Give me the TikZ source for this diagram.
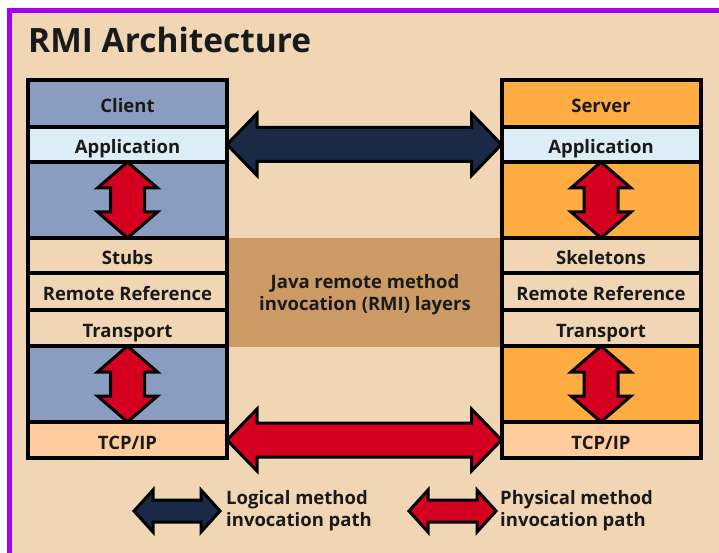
\documentclass[tikz,border=0pt]{standalone}
\usepackage{fontspec}
\setmainfont{Open Sans}
\usetikzlibrary{positioning,calc}

\definecolor{pagebg}{HTML}{F0D6B4}
\definecolor{frameviolet}{HTML}{A300F2}
\definecolor{clientblue}{HTML}{8A9CBF}
\definecolor{applight}{HTML}{DCEDF7}
\definecolor{tcppeach}{HTML}{FFCC9E}
\definecolor{serverorange}{HTML}{FFAC42}
\definecolor{bandbrown}{HTML}{CC9A64}
\definecolor{navy}{HTML}{1A2946}
\definecolor{callred}{HTML}{D5001F}
\definecolor{inkc}{HTML}{1A1A1A}

% horizontal double arrow: left tip, right tip, colour, head length, head half width, shaft half width
\newcommand{\hbiarrow}[6]{%
  \draw[fatarrow, fill=#3] (#1) -- ++(#4,-#5) -- ++(0,#5-#6) -- ($(#2)+(-#4,-#6)$) -- ++(0,#6-#5) -- (#2)
    -- ++(-#4,#5) -- ++(0,#6-#5) -- ($(#1)+(#4,#6)$) -- ++(0,#5-#6) -- cycle;}
% vertical double arrow: top tip, bottom tip, colour, head length, head half width, shaft half width
\newcommand{\vbiarrow}[6]{%
  \draw[fatarrow, fill=#3] (#1) -- ++(#5,#4) -- ++(#6-#5,0) -- ($(#2)+(#6,-#4)$) -- ++(#5-#6,0) -- (#2)
    -- ++(-#5,-#4) -- ++(#5-#6,0) -- ($(#1)+(-#6,#4)$) -- ++(#6-#5,0) -- cycle;}

\begin{document}
\begin{tikzpicture}[x=1pt, y=-1pt,
   stackrow/.style={draw=black, line width=4pt, outer sep=0pt, inner sep=0pt, minimum width=199pt,
                    text height=18pt, text depth=0pt,
                    text=inkc, font=\fontsize{18.5}{22}\bfseries},
   fatarrow/.style={draw=black, line width=3pt, line join=miter},
   legendtext/.style={anchor=west, align=left, inner sep=0pt, text=inkc, font=\fontsize{18.5}{22}\bfseries}]

   \useasboundingbox (0,0) rectangle (719,553);
   \fill[white] (0,0) rectangle (719,553);
   \fill[frameviolet] (7,8) rectangle (719,553);
   \fill[pagebg] (12,13) rectangle (719,553);

   \node[anchor=base west, inner sep=0pt, text=inkc, font=\fontsize{33.5}{40}\bfseries] (title) at (28,53) {RMI Architecture};

   % layers band between the two stacks
   \node[fill=bandbrown, minimum width=275pt, minimum height=109pt, inner sep=0pt, align=center,
         text=inkc, font=\fontsize{18.5}{22}\bfseries] (band) at (364.5,292.5) {};
   \node[align=center, inner sep=0pt, text=inkc, font=\fontsize{18.5}{22}\bfseries] (bandtext) at (365,295) {Java remote method\\invocation (RMI) layers};

   % client stack
   \node[stackrow, fill=clientblue, minimum height=47pt] (client) at (127.5,103.5) {Client};
   \node[stackrow, fill=applight, minimum height=35pt, below=0pt of client] (appC) {Application};
   \node[stackrow, fill=clientblue, minimum height=76pt, below=0pt of appC] (upC) {};
   \node[stackrow, fill=pagebg, minimum height=35pt, below=0pt of upC] (stubs) {Stubs};
   \node[stackrow, fill=pagebg, minimum height=37pt, below=0pt of stubs] (refC) {Remote Reference};
   \node[stackrow, fill=pagebg, minimum height=36pt, below=0pt of refC] (transC) {Transport};
   \node[stackrow, fill=clientblue, minimum height=76pt, below=0pt of transC] (lowC) {};
   \node[stackrow, fill=tcppeach, minimum height=36pt, below=0pt of lowC] (tcpC) {TCP/IP};

   % server stack
   \node[stackrow, fill=serverorange, minimum height=47pt] (server) at (601,103.5) {Server};
   \node[stackrow, fill=applight, minimum height=35pt, below=0pt of server] (appS) {Application};
   \node[stackrow, fill=serverorange, minimum height=76pt, below=0pt of appS] (upS) {};
   \node[stackrow, fill=pagebg, minimum height=35pt, below=0pt of upS] (skeletons) {Skeletons};
   \node[stackrow, fill=pagebg, minimum height=37pt, below=0pt of skeletons] (refS) {Remote Reference};
   \node[stackrow, fill=pagebg, minimum height=36pt, below=0pt of refS] (transS) {Transport};
   \node[stackrow, fill=serverorange, minimum height=76pt, below=0pt of transS] (lowS) {};
   \node[stackrow, fill=tcppeach, minimum height=36pt, below=0pt of lowS] (tcpS) {TCP/IP};

   % invocation paths
   \hbiarrow{appC.east}{appS.west}{navy}{30}{31}{17}
   \hbiarrow{tcpC.east}{tcpS.west}{callred}{30}{31}{17}
   \vbiarrow{upC.north}{upC.south}{callred}{26}{30}{17}
   \vbiarrow{lowC.north}{lowC.south}{callred}{26}{30}{17}
   \vbiarrow{upS.north}{upS.south}{callred}{26}{30}{17}
   \vbiarrow{lowS.north}{lowS.south}{callred}{26}{30}{17}

   % legend
   \coordinate (logL) at (134,511);
   \coordinate (logR) at (220,511);
   \coordinate (phyL) at (409,511);
   \coordinate (phyR) at (496,511);
   \hbiarrow{logL}{logR}{navy}{19}{21}{11}
   \hbiarrow{phyL}{phyR}{callred}{19}{21}{11}
   \node[legendtext] (logtext) at (226,511) {Logical method\\invocation path};
   \node[legendtext] (phytext) at (500,511) {Physical method\\invocation path};

\end{tikzpicture}
\end{document}
